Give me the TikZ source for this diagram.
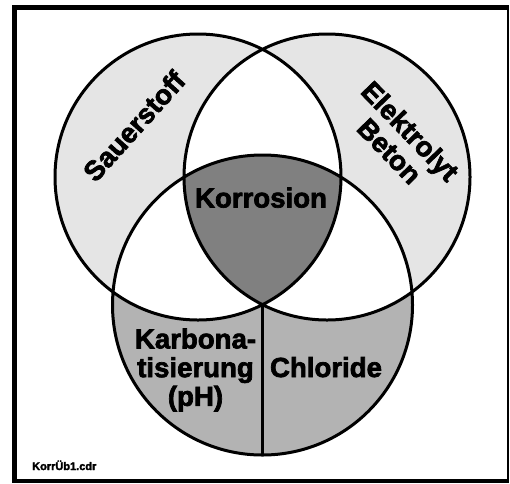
\documentclass[tikz,border=0pt]{standalone}
\usepackage{fontspec}
\setmainfont{Liberation Sans}
\newfontfamily\heavyfont{Liberation Sans Bold}[FakeBold=2.5]
\definecolor{lightg}{HTML}{E5E5E5}
\definecolor{midg}{HTML}{B3B3B3}
\definecolor{darkg}{HTML}{808080}
\begin{document}
\begin{tikzpicture}[x=1pt,y=-1pt,
  lbl/.style={font=\fontsize{27.6}{28.7}\selectfont\heavyfont, inner sep=0pt, align=center},
  foot/.style={font=\fontsize{11}{13}\selectfont\heavyfont, inner sep=0pt},
  ring/.style={draw=black, line width=3pt}]
\useasboundingbox (0,0) rectangle (510,483);
\fill[white] (0,0) rectangle (510,483);
% frame
\fill[black] (12,5) rectangle (509.3,482.7);
\fill[white] (17,10) rectangle (507.3,479.3);
% circle centres
\coordinate (cL) at (198,177);
\coordinate (cR) at (327,177);
\coordinate (cB) at (262.5,305);
\coordinate (bB) at (262.5,455);
% fills
\fill[lightg] (cL) circle[radius=143pt] (cR) circle[radius=143pt];
\fill[midg] (cB) circle[radius=150pt];
\begin{scope}
  \clip (cL) circle[radius=143pt];
  \fill[white] (cR) circle[radius=143pt];
  \fill[white] (cB) circle[radius=150pt];
\end{scope}
\begin{scope}
  \clip (cR) circle[radius=143pt];
  \fill[white] (cB) circle[radius=150pt];
\end{scope}
\begin{scope}
  \clip (cL) circle[radius=143pt];
  \clip (cR) circle[radius=143pt];
  \fill[darkg] (cB) circle[radius=150pt];
\end{scope}
% outlines
\draw[ring] (cL) circle[radius=143pt] (cR) circle[radius=143pt] (cB) circle[radius=150pt];
\draw[ring] (cB) -- (bB);
% labels
\node[lbl, rotate=48] (sauer) at (134,126) {Sauerstoff};
\node[lbl, rotate=-46] (elek) at (400,141) {Elektrolyt\\Beton};
\node[lbl, anchor=base] (korr) at (261,207.5) {Korrosion};
\node[lbl] (karb) at (195.5,370) {Karbona-\\tisierung\\(pH)};
\node[lbl, anchor=base] (chlor) at (326,377) {Chloride};
\node[foot, anchor=base west] (file) at (32,470) {KorrÜb1.cdr};
\end{tikzpicture}
\end{document}
